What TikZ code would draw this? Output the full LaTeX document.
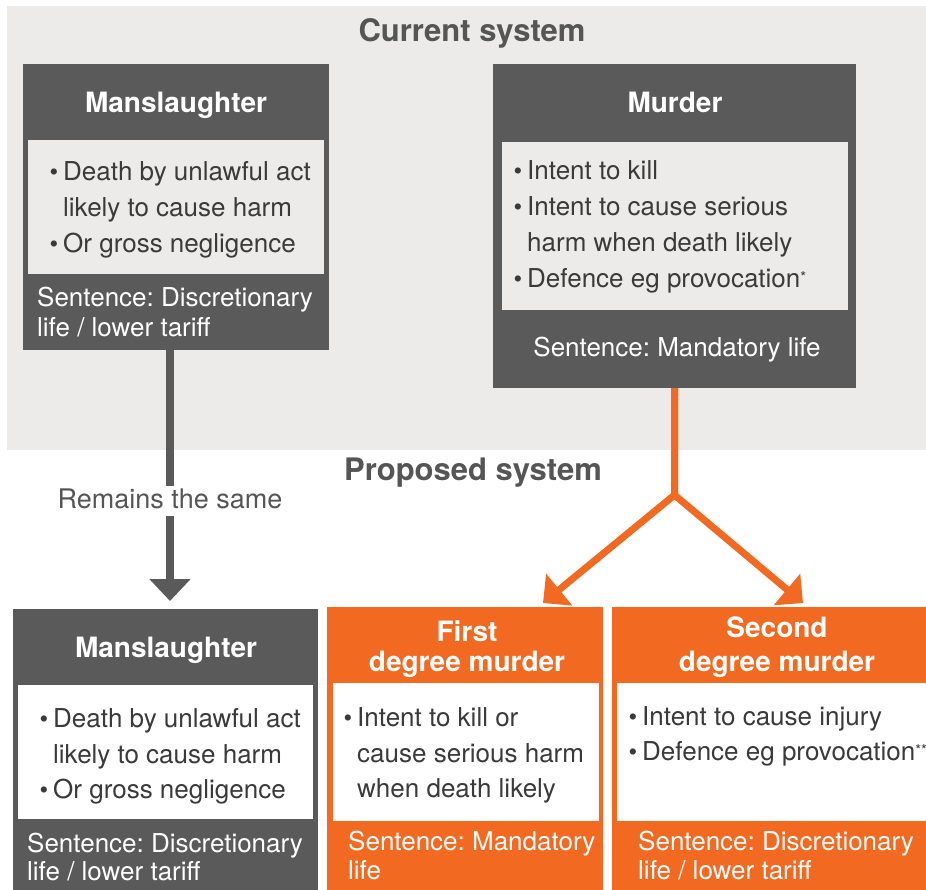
\documentclass[tikz,border=0pt]{standalone}
\usepackage{fontspec}
\setmainfont{TeX Gyre Heros}
\usetikzlibrary{arrows.meta}
\frenchspacing

\definecolor{bggrey}{HTML}{ECEBE9}
\definecolor{boxgrey}{HTML}{5A5A5A}
\definecolor{murderorange}{HTML}{F26A22}
\definecolor{inktext}{HTML}{3A3A3A}
\definecolor{headgrey}{HTML}{555555}

\newcommand\bodyfont{\fontsize{26}{31}\selectfont}
\newcommand\headfont{\fontsize{28}{32}\selectfont\bfseries}
\newcommand\sysfont{\fontsize{31}{36}\selectfont\bfseries}
\newcommand\blt{\llap{\scalebox{0.95}{\textbullet}\hspace{5pt}}}
\newcommand\fnmark[1]{\raisebox{5pt}{\fontsize{15}{15}\selectfont #1}}

\tikzset{
  panel/.style={anchor=north west, inner sep=0pt, outer sep=0pt},
  darkpanel/.style={panel, fill=boxgrey},
  orangepanel/.style={panel, fill=murderorange},
  greyinset/.style={panel, fill=bggrey},
  whiteinset/.style={panel, fill=white},
  systitle/.style={anchor=base, inner sep=0pt, font=\sysfont, text=headgrey},
  headline/.style={anchor=base, inner sep=0pt, font=\headfont, text=white},
  listline/.style={anchor=base west, inner sep=0pt, font=\bodyfont, text=inktext},
  sentline/.style={anchor=base west, inner sep=0pt, font=\bodyfont, text=white},
  greyarrow/.style={draw=boxgrey, line width=7.5pt, -{Triangle[width=40pt,length=22pt]}},
  greyline/.style={draw=boxgrey, line width=7.5pt},
  orangearrow/.style={draw=murderorange, line width=7pt, line join=miter, -{Triangle[width=40pt,length=21pt]}}
}

\begin{document}
\begin{tikzpicture}[x=1pt,y=-1pt]
\useasboundingbox (0,0) rectangle (926,890);

% current system
\fill[bggrey] (7,6) rectangle (926,450);
\node[systitle] (current) at (472,42) {Current system};

\node[darkpanel, minimum width=306pt, minimum height=286pt] (mansold) at (23,64) {};
\node[greyinset, minimum width=296pt, minimum height=134pt] (mansoldin) at (28,140) {};
\node[headline] (mansoldhead) at (176,113) {Manslaughter};
\node[listline] (mansoldi) at (63,181) {\blt Death by unlawful act};
\node[listline] (mansoldii) at (63,217) {likely to cause harm};
\node[listline] (mansoldiii) at (63,253) {\blt Or gross negligence};
\node[sentline] (mansoldsi) at (37,307) {Sentence: Discretionary};
\node[sentline] (mansoldsii) at (37,337) {life / lower tariff};

\node[darkpanel, minimum width=363pt, minimum height=324pt] (murder) at (493,64) {};
\node[greyinset, minimum width=346pt, minimum height=168pt] (murderin) at (502,142) {};
\node[headline] (murderhead) at (675,113) {Murder};
\node[listline] (murderi) at (527,180) {\blt Intent to kill};
\node[listline] (murderii) at (527,216) {\blt Intent to cause serious};
\node[listline] (murderiii) at (527,252) {harm when death likely};
\node[listline] (murderiv) at (527,288) {\blt Defence eg provocation\fnmark{*}};
\node[sentline, anchor=base] (murdersent) at (677,356) {Sentence: Mandatory life};

% proposed system
\node[systitle] (proposed) at (473,480) {Proposed system};

\node[darkpanel, minimum width=305pt, minimum height=281pt] (mansnew) at (13,609) {};
\node[whiteinset, minimum width=295pt, minimum height=134pt] (mansnewin) at (18,685) {};
\node[headline] (mansnewhead) at (166,657) {Manslaughter};
\node[listline] (mansnewi) at (53,727) {\blt Death by unlawful act};
\node[listline] (mansnewii) at (53,763) {likely to cause harm};
\node[listline] (mansnewiii) at (53,798) {\blt Or gross negligence};
\node[sentline] (mansnewsi) at (27,852) {Sentence: Discretionary};
\node[sentline] (mansnewsii) at (27,880) {life / lower tariff};

\node[orangepanel, minimum width=276pt, minimum height=283pt] (firstdeg) at (327,607) {};
\node[whiteinset, minimum width=266pt, minimum height=138pt] (firstdegin) at (333,683) {};
\node[headline] (firsthead) at (467,641) {First};
\node[headline] (firstheadii) at (467,671) {degree murder};
\node[listline] (firsti) at (357,726) {\blt Intent to kill or};
\node[listline] (firstii) at (357,762) {cause serious harm};
\node[listline] (firstiii) at (357,797) {when death likely};
\node[sentline] (firstsi) at (348,850) {Sentence: Mandatory};
\node[sentline] (firstsii) at (348,879) {life};

\node[orangepanel, minimum width=314pt, minimum height=283pt] (seconddeg) at (612,607) {};
\node[whiteinset, minimum width=309pt, minimum height=138pt] (seconddegin) at (617,683) {};
\node[headline] (secondhead) at (777,637) {Second};
\node[headline] (secondheadii) at (777,671) {degree murder};
\node[listline] (secondi) at (642,725) {\blt Intent to cause injury};
\node[listline] (secondii) at (642,760) {\blt Defence eg provocation\fnmark{**}};
\node[sentline] (secondsi) at (638,850) {Sentence: Discretionary};
\node[sentline] (secondsii) at (638,879) {life / lower tariff};

% connectors
\node[anchor=base, inner xsep=2pt, inner ysep=4pt, text height=18pt, text depth=4pt,
  font=\fontsize{27}{31}\selectfont, text=headgrey] (remains) at (170,508) {Remains the same};
\draw[greyline] (remains.north) -- (remains.north |- mansold.south);
\draw[greyarrow, shorten >=8pt] (remains.south) -- (remains.south |- mansnew.north);

\coordinate (fork) at (674.5,495);
\coordinate (tipone) at (543,603);
\coordinate (tiptwo) at (803,603);
\draw[orangearrow] (murder.south) -- (fork) -- (tipone);
\draw[orangearrow] (murder.south) -- (fork) -- (tiptwo);
\end{tikzpicture}
\end{document}
